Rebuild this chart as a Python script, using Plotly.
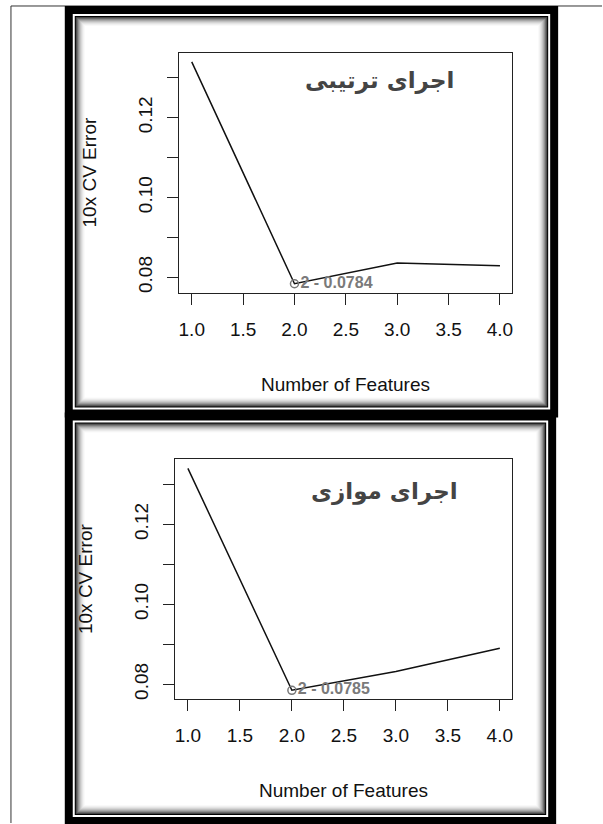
import plotly.graph_objects as go

# Cross-validation error by number of features, two runs
features = [1, 2, 3, 4]
cv_error_serial = [0.134, 0.0784, 0.0836, 0.0829]
cv_error_parallel = [0.134, 0.0785, 0.0832, 0.0890]
titles = ["اجرای ترتیبی", "اجرای موازی"]
x_ticks = [1.0, 1.5, 2.0, 2.5, 3.0, 3.5, 4.0]
y_ticks = [0.08, 0.09, 0.10, 0.11, 0.12, 0.13]
y_tick_text = ["0.08", "", "0.10", "", "0.12", ""]
x_title = "Number of Features"
y_title = "10x CV Error"

W, H = 603, 824
LATIN = "Liberation Sans, Arial, sans-serif"


def px(x):
    return x / W


def py(y):
    return 1 - y / H


def pad_range(vals, frac=0.04):
    lo, hi = min(vals), max(vals)
    d = (hi - lo) * frac
    return [lo - d, hi + d]


fig = go.Figure()
shapes = []
annotations = []

# thin page rules
shapes.append(dict(type="line", xref="paper", yref="paper", x0=px(10), x1=px(10),
                   y0=py(6), y1=py(824), line=dict(color="#333", width=1), layer="below"))
shapes.append(dict(type="line", xref="paper", yref="paper", x0=px(10), x1=px(603),
                   y0=py(6), y1=py(6), line=dict(color="#333", width=1), layer="below"))


def frame(x0, y0, x1, y1):
    def rect(inset, color):
        shapes.append(dict(type="rect", xref="paper", yref="paper",
                           x0=px(x0 + inset), x1=px(x1 - inset),
                           y0=py(y0 + inset), y1=py(y1 - inset),
                           fillcolor=color, line=dict(width=0), layer="below"))
    rect(0, "#000000")
    rect(8, "#ffffff")
    rect(10, "#000000")
    grays = [70, 105, 140, 168, 192, 212, 228, 240, 249, 255]
    for i, g in enumerate(grays):
        rect(11 + i, f"rgb({g},{g},{g})")


frame(64, 6, 559, 418)
frame(64, 413, 557, 826)

panels = [
    dict(data=cv_error_serial, box=(179, 53, 513, 293), title_xy=(380, 81), xt=385, yt=89),
    dict(data=cv_error_parallel, box=(175, 460, 513, 700), title_xy=(385, 492), xt=791, yt=85),
]

for i, p in enumerate(panels):
    n = "" if i == 0 else str(i + 1)
    bx0, by0, bx1, by1 = p["box"]
    xa = "x" + n
    ya = "y" + n
    yr = pad_range(p["data"])
    xr = pad_range(features)
    fig.add_trace(go.Scatter(x=features, y=p["data"], mode="lines",
                             line=dict(color="#111", width=1.5),
                             xaxis=xa, yaxis=ya, showlegend=False, hoverinfo="skip"))
    k = min(range(len(p["data"])), key=lambda j: p["data"][j])
    fig.add_trace(go.Scatter(x=[features[k]], y=[p["data"][k]], mode="markers+text",
                             marker=dict(symbol="circle-open", size=8, color="#777",
                                         line=dict(width=1.5, color="#777")),
                             text=[f"{features[k]} - {p['data'][k]}"],
                             textposition="middle right",
                             textfont=dict(family=LATIN, size=16, color="#7a7a7a", weight="bold"),
                             xaxis=xa, yaxis=ya, showlegend=False, hoverinfo="skip"))
    axis_common = dict(showline=True, linecolor="#222", linewidth=1.2, mirror=True,
                       ticks="outside", ticklen=11, tickcolor="#222", tickwidth=1.2,
                       showgrid=False, zeroline=False,
                       tickfont=dict(family=LATIN, size=19, color="#111"))
    fig.update_layout(**{
        ("xaxis" + n): dict(domain=[px(bx0), px(bx1)], range=xr, anchor=ya,
                             tickvals=x_ticks, ticktext=[f"{v:.1f}" for v in x_ticks],
                             ticklabelstandoff=8, **axis_common),
        ("yaxis" + n): dict(domain=[py(by1), py(by0)], range=yr, anchor=xa,
                             tickvals=y_ticks, ticktext=y_tick_text, tickangle=-90,
                             ticklabelstandoff=8, **axis_common),
    })
    tx, ty = p["title_xy"]
    annotations.append(dict(xref="paper", yref="paper", x=px(tx), y=py(ty),
                            text=f"<b>{titles[i]}</b>", showarrow=False,
                            font=dict(family="DejaVu Sans", size=23, color="#444"),
                            xanchor="center", yanchor="middle"))
    annotations.append(dict(xref="paper", yref="paper", x=px((bx0 + bx1) / 2), y=py(p["xt"]),
                            text=x_title, showarrow=False,
                            font=dict(family=LATIN, size=19, color="#111"),
                            xanchor="center", yanchor="middle"))
    annotations.append(dict(xref="paper", yref="paper", x=px(p["yt"]), y=py((by0 + by1) / 2),
                            text=y_title, showarrow=False, textangle=-90,
                            font=dict(family=LATIN, size=19, color="#111"),
                            xanchor="center", yanchor="middle"))

fig.update_layout(width=W, height=H, autosize=False,
                  margin=dict(l=0, r=0, t=0, b=0),
                  paper_bgcolor="white", plot_bgcolor="rgba(0,0,0,0)",
                  shapes=shapes, annotations=annotations)

fig.write_html("out.html")
